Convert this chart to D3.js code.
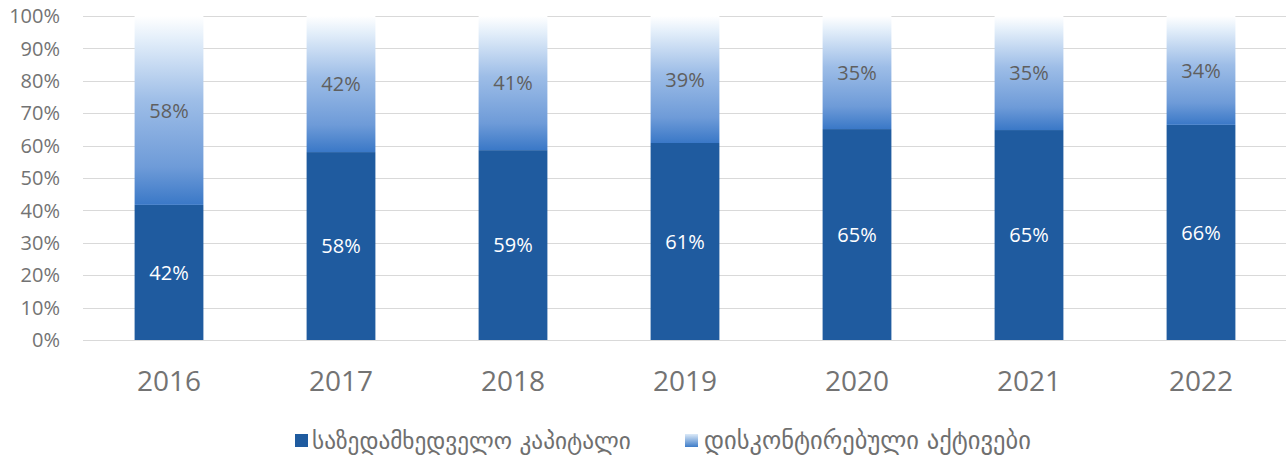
<!DOCTYPE html>
<html><head><meta charset="utf-8">
<script src="https://cdn.jsdelivr.net/npm/d3@7"></script>
<style>body{margin:0;background:#fff;} svg{display:block;}</style>
</head><body>
<svg id="c" width="1286" height="459"></svg>
<script>
const years = ["2016","2017","2018","2019","2020","2021","2022"];
const equity = [41.7, 58.0, 58.6, 60.8, 65.1, 64.8, 66.4];
const discounted = [58.3, 42.0, 41.4, 39.2, 34.9, 35.2, 33.6];
const yTicks = [0,10,20,30,40,50,60,70,80,90,100];
const seriesNames = ["საზედამხედველო კაპიტალი","დისკონტირებული აქტივები"];

const svg = d3.select("#c");
const x = d3.scaleBand().domain(years).range([83,1287]).paddingInner(0.6).paddingOuter(0.3);
const y = d3.scaleLinear().domain([0,100]).range([340,16]);
const font = "'Open Sans', 'DejaVu Sans', sans-serif";

const defs = svg.append("defs");
const g = defs.append("linearGradient").attr("id","grad").attr("x1",0).attr("y1",0).attr("x2",0).attr("y2",1);
[[0,"#ffffff"],[0.12,"#e4effa"],[0.45,"#9dbde7"],[0.8,"#6e9bd8"],[1,"#3a78c7"]].forEach(s=>g.append("stop").attr("offset",s[0]).attr("stop-color",s[1]));
const lg = defs.append("linearGradient").attr("id","lgrad").attr("x1",0).attr("y1",0).attr("x2",0).attr("y2",1);
[[0,"#dceaf8"],[1,"#3e7cc8"]].forEach(s=>lg.append("stop").attr("offset",s[0]).attr("stop-color",s[1]));

// gridlines
svg.append("g").selectAll("line").data(yTicks).join("line")
  .attr("x1",83).attr("x2",1286).attr("y1",d=>Math.round(y(d))+0.5).attr("y2",d=>Math.round(y(d))+0.5)
  .attr("stroke","#d9d9d9").attr("stroke-width",1);

// y labels
svg.append("g").selectAll("text").data(yTicks).join("text")
  .attr("x",60).attr("y",d=>y(d)).attr("dy","0.36em").attr("text-anchor","end")
  .attr("font-family",font).attr("font-size",20).attr("fill","#737373")
  .text(d=>d+"%");

const bw = x.bandwidth();
// bottom bars
svg.append("g").selectAll("rect").data(years).join("rect")
  .attr("x",d=>x(d)).attr("width",bw)
  .attr("y",(d,i)=>y(equity[i])).attr("height",(d,i)=>y(0)-y(equity[i]))
  .attr("fill","#1f5b9f");
// top bars
svg.append("g").selectAll("rect").data(years).join("rect")
  .attr("x",d=>x(d)).attr("width",bw)
  .attr("y",(d,i)=>y(equity[i]+discounted[i])).attr("height",(d,i)=>y(equity[i])-y(equity[i]+discounted[i]))
  .attr("fill","url(#grad)");

// labels
svg.append("g").selectAll("text").data(years).join("text")
  .attr("x",d=>x(d)+bw/2).attr("y",(d,i)=>y(equity[i]/2)).attr("dy","0.36em").attr("text-anchor","middle")
  .attr("font-family",font).attr("font-size",20).attr("fill","#ffffff")
  .text((d,i)=>Math.round(equity[i])+"%");
svg.append("g").selectAll("text").data(years).join("text")
  .attr("x",d=>x(d)+bw/2).attr("y",(d,i)=>y(equity[i]+discounted[i]/2)).attr("dy","0.36em").attr("text-anchor","middle")
  .attr("font-family",font).attr("font-size",20).attr("fill","#5f5f5f")
  .text((d,i)=>Math.round(discounted[i])+"%");

// x labels
svg.append("g").selectAll("text").data(years).join("text")
  .attr("x",d=>x(d)+bw/2).attr("y",381).attr("dy","0.36em").attr("text-anchor","middle")
  .attr("font-family",font).attr("font-size",28).attr("fill","#737373")
  .text(d=>d);

// legend
const leg = [{sx:295, tx:312, w:319, fill:"#1f5b9f"},{sx:685, tx:704, w:327, fill:"url(#lgrad)"}];
leg.forEach((l,i)=>{
  svg.append("rect").attr("x",l.sx).attr("y",434).attr("width",13).attr("height",13).attr("fill",l.fill);
  const t = svg.append("text").attr("x",l.tx).attr("y",440.5).attr("dy","0.36em")
    .attr("font-family","'DejaVu Sans', sans-serif").attr("font-size",20).attr("fill","#6f6f6f")
    .text(seriesNames[i]);
  const len = t.node().getComputedTextLength();
  if(len>0) t.attr("font-size", 20*l.w/len);
});
</script>
</body></html>
